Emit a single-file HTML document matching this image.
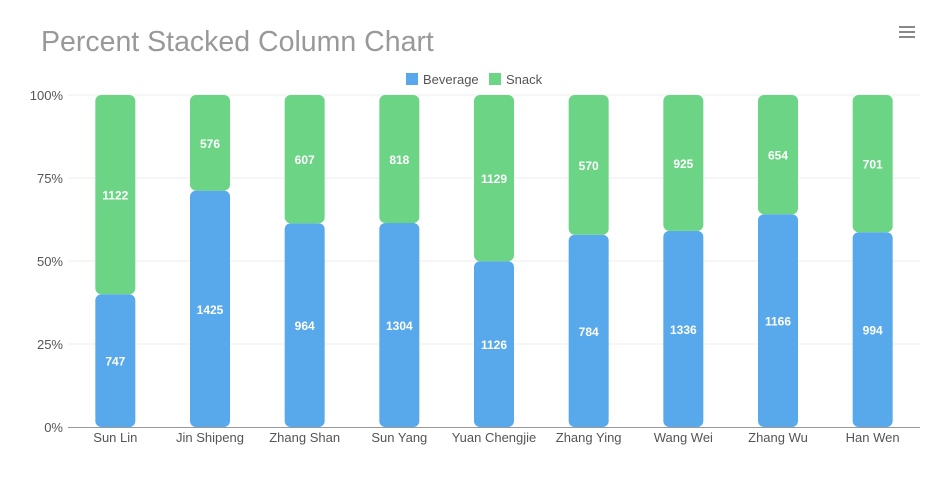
<!DOCTYPE html>
<html><head><meta charset="utf-8"><style>
body{margin:0;background:#fff;}
svg text{font-family:"Liberation Sans",sans-serif;}
</style></head><body>
<svg id="c" width="947" height="472" xmlns="http://www.w3.org/2000/svg">
<text x="41" y="51" font-size="28.5" fill="#999">Percent Stacked Column Chart</text>
<g fill="#888"><rect x="899" y="26" width="16" height="2"/><rect x="899" y="31" width="16" height="2"/><rect x="899" y="36" width="16" height="2"/></g>
<rect x="406" y="73" width="12" height="12" fill="#58a8ec"/>
<text x="423" y="84" font-size="13" fill="#555">Beverage</text>
<rect x="489" y="73" width="12" height="12" fill="#6bd585"/>
<text x="506" y="84" font-size="13" fill="#555">Snack</text>
<g id="g"></g>
</svg>
<script>
var g=document.getElementById('g'),h='';
var yt=95,bot=427,H=332,x0=68,x1=920;
[0,25,50,75,100].forEach(function(p){var y=bot-H*p/100;
 if(p>0)h+='<line x1="'+x0+'" x2="'+x1+'" y1="'+y+'" y2="'+y+'" stroke="#eee"/>';
 h+='<text x="63" y="'+(y+5)+'" font-size="13" fill="#555" text-anchor="end">'+p+'%</text>';});
var d=[["Sun Lin",747,1122],["Jin Shipeng",1425,576],["Zhang Shan",964,607],["Sun Yang",1304,818],["Yuan Chengjie",1126,1129],["Zhang Ying",784,570],["Wang Wei",1336,925],["Zhang Wu",1166,654],["Han Wen",994,701]];
var w=(x1-x0)/9;
d.forEach(function(r,i){var cx=x0+w*(i+0.5),bh=H*r[1]/(r[1]+r[2]),yb=bot-bh;
 h+='<rect x="'+(cx-20)+'" y="'+yb+'" width="40" height="'+bh+'" rx="6" fill="#58a8ec"/>';
 h+='<rect x="'+(cx-20)+'" y="'+yt+'" width="40" height="'+(yb-yt)+'" rx="6" fill="#6bd585"/>';
 h+='<text x="'+cx+'" y="'+(yb+bh/2+5)+'" font-size="12" font-weight="bold" fill="#fff" text-anchor="middle">'+r[1]+'</text>';
 h+='<text x="'+cx+'" y="'+((yb+yt)/2+5)+'" font-size="12" font-weight="bold" fill="#fff" text-anchor="middle">'+r[2]+'</text>';
 h+='<text x="'+cx+'" y="442" font-size="13" fill="#555" text-anchor="middle">'+r[0]+'</text>';});
h+='<line x1="'+x0+'" x2="'+x1+'" y1="'+(bot+0.5)+'" y2="'+(bot+0.5)+'" stroke="#999"/>';
g.innerHTML=h;
</script>
</body></html>
